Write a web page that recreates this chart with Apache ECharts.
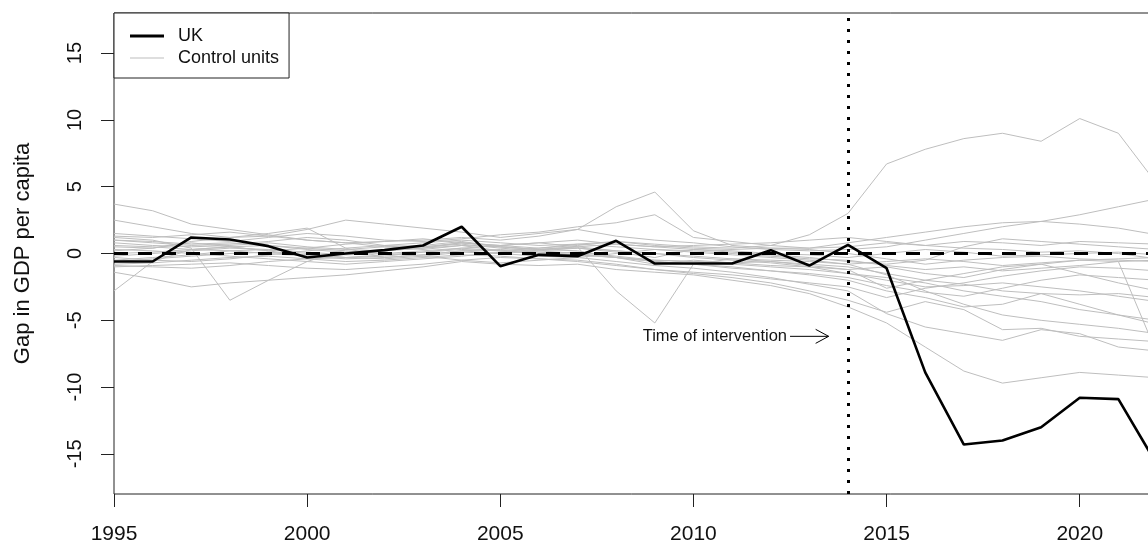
<!DOCTYPE html>
<html>
<head>
<meta charset="utf-8">
<script src="https://cdn.jsdelivr.net/npm/echarts@6/dist/echarts.min.js"></script>
<style>html,body{margin:0;padding:0;background:#fff;}#c{width:1148px;height:545px;}</style>
</head>
<body>
<div id="c"></div>
<script>
const years = [1995,1996,1997,1998,1999,2000,2001,2002,2003,2004,2005,2006,2007,2008,2009,2010,2011,2012,2013,2014,2015,2016,2017,2018,2019,2020,2021,2022];
const xTicks = [1995,2000,2005,2010,2015,2020];
const yTicks = [-15,-10,-5,0,5,10,15];
const interventionYear = 2014;
const zeroLine = 0;
const annotationText = 'Time of intervention';
const arrowX = [2012.5, 2013.5];
const arrowY = -6.2;

const uk = [-0.6,-0.6,1.2,1.05,0.55,-0.3,0.0,0.25,0.6,2.0, -0.95,-0.1,-0.2,0.95,-0.75,-0.75,-0.75,0.25,-0.9,0.65, -1.1,-8.9,-14.3,-14.0,-13.0,-10.8,-10.9,-15.8];

const c1 = [1.0,0.8,0.6,0.7,0.9,1.2,1.0,0.6,0.5,0.8, 0.6,0.4,0.6,0.9,0.7,0.5,0.4,0.6,1.4,3.0, 6.7,7.8,8.6,9.0,8.4,10.1,9.0,5.2];
const c2 = [3.7,3.2,2.2,1.8,1.4,1.0,0.8,0.5,0.6,0.9, 0.5,0.3,0.5,0.2,0.0,-0.3,-0.5,-0.7,-1.0,-1.5, -2.0,-2.5,-2.4,-2.2,-2.5,-2.8,-3.2,-3.6];
const c3 = [2.5,2.0,1.5,1.2,1.3,1.8,2.5,2.2,1.9,1.6, 1.2,1.5,1.8,1.3,1.0,0.8,0.5,0.3,0.2,0.3, 0.5,1.0,1.5,2.0,2.4,2.9,3.5,4.1];
const c4 = [-2.8,-0.6,0.3,0.5,0.2,-0.2,0.0,0.2,0.4,0.8, 0.5,0.3,0.2,-0.3,-0.8,-0.5,-0.7,-0.6,-0.9,-1.2, -2.6,-2.0,-1.5,-1.0,-0.8,-0.5,-0.4,-0.3];
const c5 = [1.2,1.0,0.4,-3.5,-2.0,-0.6,0.3,0.5,0.3,0.6, 0.2,0.4,0.7,0.5,0.3,0.2,0.0,-0.2,-0.4,-0.5, -0.9,-1.2,-1.0,-1.3,-1.1,-0.9,-0.6,-0.5];
const c6 = [-1.4,-1.9,-2.5,-2.2,-2.0,-1.8,-1.6,-1.3,-1.0,-0.6, -0.8,-0.9,-0.8,-1.2,-1.4,-1.6,-2.0,-2.4,-3.0,-4.0, -5.2,-7.0,-8.8,-9.7,-9.3,-8.9,-9.1,-9.3];
const c7 = [0.5,0.4,0.8,0.5,0.2,0.4,0.7,0.9,1.0,1.2, 1.0,1.3,1.8,3.5,4.6,1.7,0.6,0.4,0.3,0.0, -0.4,-0.8,-0.5,-0.3,-0.2,-0.4,-0.5,-0.6];
const c8 = [-0.5,-0.3,-0.1,0.2,0.3,0.0,-0.3,-0.2,0.1,0.4, 0.6,0.8,0.5,-2.8,-5.2,-0.8,-0.4,-0.6,-0.8,-1.0, -1.5,-2.0,-2.3,-2.8,-3.0,-3.1,-3.0,-3.3];
const c9 = [1.5,1.3,1.1,0.9,1.2,1.5,1.3,1.0,0.9,1.1, 1.4,1.6,2.0,2.3,2.9,1.2,0.9,0.6,0.4,0.8, 1.2,1.6,2.0,2.3,2.4,2.2,1.9,1.4];
const c10 = [0.2,0.4,0.9,1.2,1.5,1.9,0.4,-0.3,-0.1,0.2, 0.0,0.2,0.4,0.1,-0.3,0.3,0.1,-0.1,-0.3,-0.6, -0.8,-0.5,0.5,1.1,0.9,0.7,0.5,0.3];
const c11 = [-0.8,-0.7,-0.5,-0.3,-0.2,-0.4,-0.6,-0.5,-0.3,-0.1, -0.2,-0.4,-0.5,-0.8,-1.2,-1.5,-1.8,-2.2,-2.8,-3.5, -4.4,-3.6,-4.2,-5.7,-5.6,-6.2,-6.4,-6.6];
const c12 = [-0.6,-0.4,-0.2,0.0,0.1,-0.1,-0.3,-0.4,-0.2,0.1, 0.0,-0.2,-0.3,-0.6,-0.9,-1.1,-1.4,-1.8,-2.3,-2.8, -4.5,-5.5,-6.0,-6.5,-5.7,-6.0,-7.0,-7.3];
const c13 = [0.6,0.5,0.3,0.2,0.0,-0.2,-0.4,-0.3,-0.1,0.2, 0.3,0.1,-0.1,-0.3,-0.6,-0.8,-1.0,-1.3,-1.6,-2.0, -2.8,-3.3,-4.0,-3.8,-3.0,-3.8,-4.6,-5.3];
const c14 = [0.8,0.6,0.5,0.6,0.8,0.5,0.3,0.2,0.4,0.6, 0.5,0.3,0.4,0.2,0.0,-0.2,-0.4,-0.5,-0.6,-0.8, -0.6,-0.4,-0.6,-0.9,-0.7,-0.5,-0.6,-7.5];
const c15 = [-0.2,0.0,0.2,0.4,0.3,0.1,-0.1,0.0,0.2,0.4, 0.2,0.0,0.1,-0.2,-0.5,-0.6,-0.8,-1.0,-1.2,-1.5, -1.8,-2.2,-2.8,-3.2,-3.6,-4.2,-4.6,-5.0];
const c16 = [0.3,0.2,0.0,-0.2,-0.4,-0.6,-0.8,-0.6,-0.4,-0.2, 0.1,0.3,0.5,0.7,0.5,0.3,0.2,0.0,-0.1,-0.3, 0.0,0.3,0.1,-0.2,-0.1,0.0,0.1,-0.1];
const c17 = [-1.0,-0.9,-0.8,-0.7,-0.9,-1.1,-1.2,-1.0,-0.8,-0.5, -0.3,-0.4,-0.6,-0.9,-1.2,-1.4,-1.6,-1.9,-2.2,-2.5, -3.3,-2.6,-2.2,-1.7,-1.3,-1.0,-1.1,-1.3];
const c18 = [1.0,0.9,0.7,0.8,0.6,0.3,0.1,0.3,0.5,0.7, 0.4,0.2,0.0,-0.3,-0.6,-0.8,-1.1,-1.3,-1.5,-1.8, -2.4,-2.9,-3.2,-2.6,-2.0,-1.6,-1.8,-2.0];
const c19 = [-0.3,-0.5,-0.6,-0.4,-0.1,0.2,0.4,0.6,0.8,1.0, 0.8,0.6,0.7,0.9,0.6,0.4,0.3,0.4,0.4,0.5, 0.8,0.6,0.9,0.8,0.6,0.9,0.8,0.7];
const c20 = [-0.9,-1.0,-1.1,-0.9,-0.6,-0.4,-0.3,-0.1,0.1,0.3, 0.2,0.0,-0.1,-0.3,-0.5,-0.6,-0.7,-0.9,-1.0,-1.2, -1.0,-1.5,-1.8,-1.2,-0.8,-1.5,-2.2,-2.8];
const c21 = [1.3,1.2,1.4,1.6,1.3,1.0,0.8,0.9,1.1,0.8, 0.6,0.8,1.0,0.7,0.5,0.6,0.7,0.8,1.0,1.2, 0.9,0.6,0.4,0.3,0.1,0.2,0.0,-0.4];
const c22 = [0.0,0.1,0.3,0.5,0.6,0.4,0.2,0.0,-0.2,-0.5, -0.7,-0.5,-0.3,0.0,0.3,0.1,-0.1,-0.3,-0.5,-0.8, -1.6,-2.8,-3.8,-4.6,-5.0,-5.3,-5.6,-6.0];
const controls = [c1,c2,c3,c4,c5,c6,c7,c8,c9,c10,c11,c12,c13,c14,c15,c16,c17,c18,c19,c20,c21,c22];

const FONT = "'Liberation Sans', Arial, sans-serif";
const pairs = vals => years.map((y, i) => [y, vals[i]]);

const series = controls.map(v => ({
  name: 'Control units', type: 'line', data: pairs(v), symbol: 'none',
  lineStyle: { color: '#bebebe', width: 1 }, itemStyle: { color: '#bebebe' },
  silent: true, z: 1
}));
series.push({
  name: 'UK', type: 'line', data: pairs(uk), symbol: 'none',
  lineStyle: { color: '#000', width: 2.6 }, itemStyle: { color: '#000' }, z: 3,
  markLine: {
    silent: true, symbol: 'none', label: { show: false },
    data: [
      { yAxis: zeroLine, lineStyle: { color: '#000', width: 3, type: [14, 10] } },
      { xAxis: interventionYear, lineStyle: { color: '#000', width: 3, type: [3, 8] } }
    ]
  }
});
series.push({
  name: 'annotation', type: 'custom', data: [[arrowX[0], arrowY, arrowX[1]]], silent: true, z: 4,
  encode: { x: 0, y: 1 },
  renderItem: (params, api) => {
    const p0 = api.coord([api.value(0), api.value(1)]);
    const p1 = api.coord([api.value(2), api.value(1)]);
    return { type: 'group', children: [
      { type: 'line', shape: { x1: p0[0], y1: p0[1], x2: p1[0], y2: p1[1] }, style: { stroke: '#000', lineWidth: 1 } },
      { type: 'polyline', shape: { points: [[p1[0]-13, p1[1]-7], [p1[0], p1[1]], [p1[0]-13, p1[1]+7]] }, style: { stroke: '#000', fill: null, lineWidth: 1 } },
      { type: 'text', x: p0[0]-3, y: p0[1], style: { text: annotationText, align: 'right', verticalAlign: 'middle', fontSize: 16.5, fontFamily: FONT, fill: '#111' } }
    ]};
  }
});

const chart = echarts.init(document.getElementById('c'), null, { renderer: 'canvas' });
chart.setOption({
  animation: false,
  backgroundColor: '#fff',
  grid: { left: 114, top: 13, right: -9, bottom: 51, show: true, borderColor: '#222', borderWidth: 1, backgroundColor: 'transparent', containLabel: false, outerBoundsMode: 'none' },
  legend: {
    data: [
      { name: 'UK', icon: 'path://M0,0 L34,0 L34,3 L0,3 Z' },
      { name: 'Control units', icon: 'path://M0,0 L34,0 L34,1 L0,1 Z' }
    ],
    orient: 'vertical', left: 114, top: 13,
    padding: [14, 10, 11, 16], itemWidth: 34, itemHeight: 18, itemGap: 4,
    borderColor: '#222', borderWidth: 1, backgroundColor: '#fff', selectedMode: false,
    textStyle: { fontSize: 18, fontFamily: FONT, color: '#111', padding: [0, 0, 0, 9], lineHeight: 18 }
  },
  xAxis: {
    type: 'value', min: 1995, max: 2022,
    axisLine: { show: false, onZero: false },
    axisTick: { show: true, length: 13, inside: false, lineStyle: { color: '#222', width: 1 }, customValues: xTicks },
    axisLabel: { margin: 30, fontSize: 21, fontFamily: FONT, color: '#111', customValues: xTicks, formatter: v => String(v) },
    splitLine: { show: false }
  },
  yAxis: {
    type: 'value', min: -18, max: 18,
    name: 'Gap in GDP per capita', nameLocation: 'middle', nameGap: 80, nameRotate: 90,
    nameTextStyle: { fontSize: 22, fontFamily: FONT, color: '#111' },
    axisLine: { show: false, onZero: false },
    axisTick: { show: true, length: 13, inside: false, lineStyle: { color: '#222', width: 1 }, customValues: yTicks },
    axisLabel: { margin: 29, rotate: 90, fontSize: 20, fontFamily: FONT, color: '#111', customValues: yTicks, formatter: v => String(v) },
    splitLine: { show: false }
  },
  series: series
});
</script>
</body>
</html>
